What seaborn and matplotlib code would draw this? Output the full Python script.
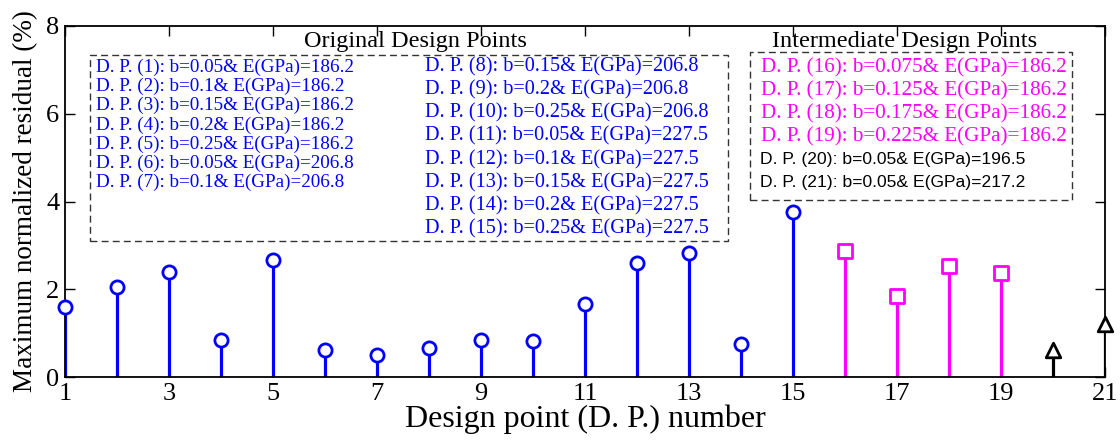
import numpy as np
import pandas as pd
import seaborn as sns
import matplotlib.pyplot as plt
from matplotlib.patches import Rectangle

# data
dp_orig = list(range(1, 16))
res_orig = [1.60, 2.05, 2.40, 0.85, 2.67, 0.62, 0.50, 0.66, 0.85, 0.82, 1.67, 2.60, 2.83, 0.75, 3.75]
dp_mid = [16, 17, 18, 19]
res_mid = [2.88, 1.85, 2.54, 2.38]
dp_extra = [20, 21]
res_extra = [0.62, 1.21]

x_ticks = list(range(1, 22, 2))
y_ticks = [0, 2, 4, 6, 8]

legend_orig_left = [
    "D. P. (1): b=0.05& E(GPa)=186.2",
    "D. P. (2): b=0.1& E(GPa)=186.2",
    "D. P. (3): b=0.15& E(GPa)=186.2",
    "D. P. (4): b=0.2& E(GPa)=186.2",
    "D. P. (5): b=0.25& E(GPa)=186.2",
    "D. P. (6): b=0.05& E(GPa)=206.8",
    "D. P. (7): b=0.1& E(GPa)=206.8",
]
legend_orig_right = [
    "D. P. (8): b=0.15& E(GPa)=206.8",
    "D. P. (9): b=0.2& E(GPa)=206.8",
    "D. P. (10): b=0.25& E(GPa)=206.8",
    "D. P. (11): b=0.05& E(GPa)=227.5",
    "D. P. (12): b=0.1& E(GPa)=227.5",
    "D. P. (13): b=0.15& E(GPa)=227.5",
    "D. P. (14): b=0.2& E(GPa)=227.5",
    "D. P. (15): b=0.25& E(GPa)=227.5",
]
legend_mid = [
    "D. P. (16): b=0.075& E(GPa)=186.2",
    "D. P. (17): b=0.125& E(GPa)=186.2",
    "D. P. (18): b=0.175& E(GPa)=186.2",
    "D. P. (19): b=0.225& E(GPa)=186.2",
]
legend_extra = [
    "D. P. (20): b=0.05& E(GPa)=196.5",
    "D. P. (21): b=0.05& E(GPa)=217.2",
]

sns.set_style("ticks")
plt.rcParams['font.family'] = ['Liberation Serif', 'DejaVu Serif']
plt.rcParams['text.color'] = 'black'
plt.rcParams['axes.labelcolor'] = 'black'

W, H = 1120, 446
fig = plt.figure(figsize=(11.2, 4.46), dpi=100)
ax = fig.add_axes([65 / W, 1 - 377 / H, (1105 - 65) / W, (377 - 26) / H])


def px(x, y):
    return x / W, 1 - y / H


blue = '#0000FF'
pink = '#FF00FF'

groups = [
    (dp_orig, res_orig, blue, 'o', 9.5),
    (dp_mid, res_mid, pink, 's', 9.5),
    (dp_extra, res_extra, 'black', '^', 10.5),
]
for xs, ys, col, mk, ms in groups:
    ax.vlines(xs, 0, ys, color=col, linewidth=2.3, zorder=2)
    d = pd.DataFrame({'dp': xs, 'res': ys})
    sns.scatterplot(data=d, x='dp', y='res', ax=ax, marker=mk, s=ms ** 2,
                    facecolor='white', edgecolor=col, linewidth=2,
                    zorder=3, clip_on=False, legend=False)

ax.set_xlim(1, 21)
ax.set_ylim(0, 8)
ax.set_xticks(x_ticks)
ax.set_yticks(y_ticks)
ax.tick_params(direction='in', length=7, width=1, top=True, right=True,
               labelsize=19, pad=4, colors='black')
for s in ax.spines.values():
    s.set_linewidth(1.3)
    s.set_color('black')
ax.set_xlabel("Design point (D. P.) number", fontsize=23, labelpad=0, color='black')
ax.set_ylabel("Maximum normalized residual (%)", fontsize=19.5, labelpad=6, color='black')

# legend boxes
fig.patches.append(Rectangle(px(90, 241), (728 - 90) / W, (241 - 55) / H,
                             transform=fig.transFigure, fill=False,
                             linestyle=(0, (5, 3)), linewidth=1, edgecolor='#333333'))
fig.patches.append(Rectangle(px(750, 200), (1072 - 750) / W, (200 - 52) / H,
                             transform=fig.transFigure, fill=False,
                             linestyle=(0, (5, 3)), linewidth=1, edgecolor='#333333'))

fig.text(*px(415, 42), "Original Design Points", ha='center', va='center', fontsize=17.5)
fig.text(*px(905, 42), "Intermediate Design Points", ha='center', va='center', fontsize=17.5)

for i, t in enumerate(legend_orig_left):
    fig.text(*px(96, 67 + i * 19.3), t, color=blue, va='center', fontsize=13.8)
for i, t in enumerate(legend_orig_right):
    fig.text(*px(425, 67 + i * 23.1), t, color=blue, va='center', fontsize=14.6)
for i, t in enumerate(legend_mid):
    fig.text(*px(761, 68 + i * 22.8), t, color=pink, va='center', fontsize=15.2)
for i, t in enumerate(legend_extra):
    fig.text(*px(760, 68 + (i + 4) * 22.8), t, color='black', va='center',
             fontsize=12.6, family=['Liberation Sans', 'DejaVu Sans'])

fig.savefig("out.png", dpi=100)
